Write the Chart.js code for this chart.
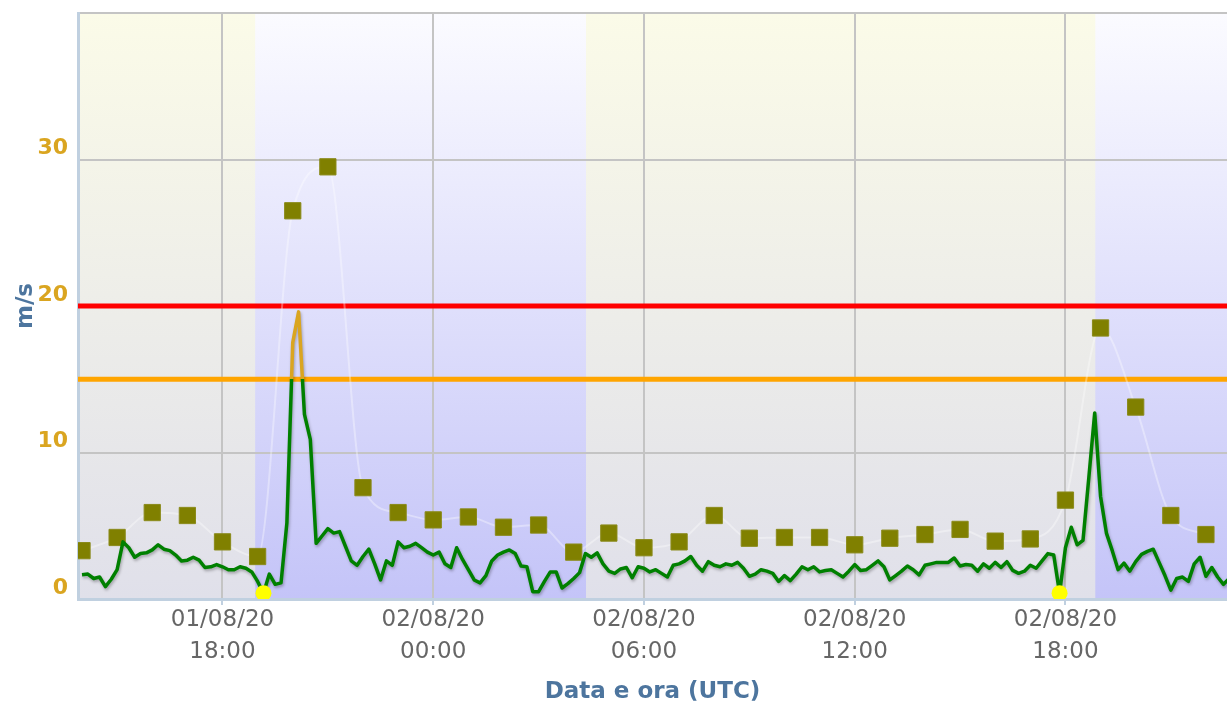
<!DOCTYPE html>
<html>
<head>
<meta charset="utf-8">
<title>Vento</title>
<script src="https://cdn.jsdelivr.net/npm/chart.js@4/dist/chart.umd.min.js"></script>
<style>
  html, body { margin: 0; padding: 0; background: #ffffff; overflow: hidden; }
  #wrap { width: 1227px; height: 706px; }
  canvas { display: block; }
</style>
</head>
<body>
<div id="wrap"><canvas id="myChart" width="1227" height="706"></canvas></div>
<script>
// hours counted from 01/08/20 00:00 UTC
var windStart = 14,
windStep = 1 / 6;

// 10 minute mean wind, m/s
var windAvg = [
  1.65, 1.7, 1.4, 1.5, 0.85, 1.35, 2.0, 3.9, 3.5, 2.85,
  3.1, 3.15, 3.35, 3.7, 3.4, 3.3, 3.0, 2.6, 2.65, 2.85,
  2.65, 2.15, 2.2, 2.35, 2.2, 2.0, 2.0, 2.2, 2.1, 1.85,
  1.2, 0.4, 1.7, 1.0, 1.1, 5.2, 17.5, 19.6, 12.6, 10.9,
  3.8, 4.3, 4.8, 4.5, 4.6, 3.6, 2.6, 2.3, 2.9, 3.4,
  2.4, 1.3, 2.6, 2.3, 3.9, 3.5, 3.6, 3.8, 3.5, 3.2,
  3.0, 3.2, 2.4, 2.15, 3.5, 2.7, 2.0, 1.3, 1.1, 1.6,
  2.6, 3.0, 3.2, 3.35, 3.1, 2.25, 2.2, 0.5, 0.5, 1.2,
  1.85, 1.85, 0.75, 1.05, 1.4, 1.8, 3.1, 2.85, 3.15, 2.4,
  1.9, 1.75, 2.05, 2.15, 1.45, 2.2, 2.1, 1.85, 2.0, 1.75,
  1.5, 2.3, 2.4, 2.6, 2.9, 2.3, 1.9, 2.55, 2.3, 2.2,
  2.4, 2.3, 2.5, 2.1, 1.55, 1.7, 2.0, 1.9, 1.75, 1.2,
  1.6, 1.25, 1.7, 2.2, 2.0, 2.2, 1.85, 1.95, 2.0, 1.75,
  1.5, 1.9, 2.35, 1.95, 2.0, 2.3, 2.6, 2.2, 1.3, 1.6,
  1.9, 2.25, 2.0, 1.65, 2.3, 2.4, 2.5, 2.5, 2.5, 2.8,
  2.25, 2.35, 2.3, 1.9, 2.4, 2.1, 2.5, 2.15, 2.55, 1.95,
  1.75, 1.9, 2.3, 2.1, 2.6, 3.1, 3.0, 0.4, 3.5, 4.9,
  3.7, 4.0, 8.3, 12.7, 7.0, 4.5, 3.3, 2.0, 2.45, 1.9,
  2.55, 3.05, 3.25, 3.4, 2.5, 1.6, 0.6, 1.4, 1.5, 1.2,
  2.4, 2.85, 1.55, 2.15, 1.5, 1.0, 1.4
];

// hourly max gust, m/s
var gustHours = [14, 15, 16, 17, 18, 19, 20, 21, 22, 23, 24, 25, 26, 27, 28, 29, 30,
  31, 32, 33, 34, 35, 36, 37, 38, 39, 40, 41, 42, 43, 44, 45, 46];
var gustMax = [3.3, 4.2, 5.9, 5.7, 3.9, 2.9, 26.5, 29.5, 7.6, 5.9, 5.4, 5.6, 4.9, 5.05, 3.2, 4.5, 3.5,
  3.9, 5.7, 4.15, 4.2, 4.2, 3.7, 4.15, 4.4, 4.75, 3.95, 4.1, 6.75, 18.5, 13.1, 5.7, 4.4];

var warnLevel = 15,
alarmLevel = 20,
calmLimit = 0.45;

// night periods (sunset -> sunrise), hours
var nightBands = [[18.93, 28.35], [42.85, 48]];

var xMin = 13.886,
xMax = 46.6;
var xTickHours = [18, 24, 30, 36, 42];
var xTickLabels = [
  ['01/08/20', '18:00'],
  ['02/08/20', '00:00'],
  ['02/08/20', '06:00'],
  ['02/08/20', '12:00'],
  ['02/08/20', '18:00']
];
var yMin = 0, yMax = 40, yStep = 10;

var windPoints = windAvg.map(function(v, i) {
  return {x: windStart + i * windStep, y: v};
});
var calmPoints = windPoints.filter(function(p) { return p.y <= calmLimit; });
var gustPoints = gustHours.map(function(h, i) {
  return {x: h, y: gustMax[i]};
});

function levelLine(v) {
  return [{x: xMin, y: v}, {x: xMax, y: v}];
}

function windColor(context) {
  var chart = context.chart, area = chart.chartArea;
  if (!area) {
    return '#008000';
  }
  var y = chart.scales.y,
  y0 = y.getPixelForValue(yMin),
  y1 = y.getPixelForValue(yMax),
  g = chart.ctx.createLinearGradient(0, y0, 0, y1),
  w = (warnLevel - yMin) / (yMax - yMin),
  a = (alarmLevel - yMin) / (yMax - yMin);
  g.addColorStop(0, '#008000');
  g.addColorStop(w, '#008000');
  g.addColorStop(w, '#daa520');
  g.addColorStop(a, '#daa520');
  g.addColorStop(a, '#ff0000');
  g.addColorStop(1, '#ff0000');
  return g;
}

// keep the plot area where the axes say, no extra label padding
function noPadding(scale) {
  scale.paddingLeft = 0;
  scale.paddingRight = 0;
  scale.paddingTop = 0;
  scale.paddingBottom = 0;
}

var bandsPlugin = {
  id: 'dayNight',
  beforeDraw: function(chart) {
    var area = chart.chartArea, xs = chart.scales.x, ctx = chart.ctx;
    if (!area) return;
    ctx.save();
    var day = ctx.createLinearGradient(0, area.top, 0, area.bottom);
    day.addColorStop(0, 'rgb(251,251,232)');
    day.addColorStop(1, 'rgb(224,224,234)');
    ctx.fillStyle = day;
    ctx.fillRect(area.left, area.top, area.right - area.left, area.bottom - area.top);
    var night = ctx.createLinearGradient(0, area.top, 0, area.bottom);
    night.addColorStop(0, 'rgb(251,251,255)');
    night.addColorStop(1, 'rgb(196,196,248)');
    ctx.fillStyle = night;
    nightBands.forEach(function(b) {
      var x0 = Math.max(xs.getPixelForValue(b[0]), area.left),
      x1 = Math.min(xs.getPixelForValue(b[1]), area.right);
      if (x1 > x0) {
        ctx.fillRect(x0, area.top, x1 - x0, area.bottom - area.top);
      }
    });
    ctx.restore();
  }
};

var shadowPlugin = {
  id: 'lineShadow',
  beforeDatasetDraw: function(chart, args) {
    if (chart.data.datasets[args.index].shadow) {
      var ctx = chart.ctx;
      ctx.save();
      ctx.shadowColor = 'rgba(0,0,0,0.28)';
      ctx.shadowBlur = 3;
      ctx.shadowOffsetX = 1;
      ctx.shadowOffsetY = 2;
    }
  },
  afterDatasetDraw: function(chart, args) {
    if (chart.data.datasets[args.index].shadow) {
      chart.ctx.restore();
    }
  }
};

var fontFamily = '"DejaVu Sans", Verdana, sans-serif';

var ctx = document.getElementById('myChart').getContext('2d');
var myChart = new Chart(ctx, {
  type: 'line',
  data: {
    datasets: [
      {
        label: 'calma',
        data: calmPoints,
        showLine: false,
        pointRadius: 8,
        pointHoverRadius: 8,
        pointBackgroundColor: '#ffff00',
        pointBorderColor: '#ffff00',
        pointBorderWidth: 0,
        order: 0
      },
      {
        label: 'vento medio',
        data: windPoints,
        borderColor: windColor,
        borderWidth: 3.5,
        borderJoinStyle: 'round',
        pointRadius: 0,
        tension: 0,
        shadow: true,
        order: 1
      },
      {
        label: 'raffica',
        data: gustPoints,
        borderColor: 'rgba(255,255,255,0.35)',
        borderWidth: 2,
        cubicInterpolationMode: 'monotone',
        pointStyle: 'rect',
        pointRadius: 11.5,
        pointHoverRadius: 11.5,
        pointBackgroundColor: '#808000',
        pointBorderColor: '#8a8a1a',
        pointBorderWidth: 1,
        order: 2
      },
      {
        label: 'allarme',
        data: levelLine(alarmLevel),
        borderColor: '#ff0000',
        borderWidth: 5,
        pointRadius: 0,
        order: 3
      },
      {
        label: 'attenzione',
        data: levelLine(warnLevel),
        borderColor: '#ffa500',
        borderWidth: 5,
        pointRadius: 0,
        order: 4
      }
    ]
  },
  options: {
    responsive: false,
    animation: false,
    devicePixelRatio: 1,
    events: [],
    layout: {
      autoPadding: false,
      padding: {top: 13, left: 0, right: 0, bottom: 0}
    },
    plugins: {
      legend: {display: false},
      tooltip: {enabled: false}
    },
    scales: {
      x: {
        type: 'linear',
        min: xMin,
        max: xMax,
        afterFit: function(scale) {
          scale.height = 107;
          noPadding(scale);
        },
        afterBuildTicks: function(scale) {
          scale.ticks = xTickHours.map(function(h) { return {value: h}; });
        },
        grid: {
          color: '#c4c4c4',
          lineWidth: 2,
          tickColor: '#c0d0e0',
          tickLength: 6
        },
        border: {color: '#c0d0e0', width: 3},
        ticks: {
          autoSkip: false,
          maxRotation: 0,
          padding: -1,
          color: '#666666',
          font: {family: fontFamily, size: 23, lineHeight: 1.39},
          callback: function(value) {
            var i = xTickHours.indexOf(value);
            return i >= 0 ? xTickLabels[i] : '';
          }
        },
        title: {
          display: true,
          text: 'Data e ora (UTC)',
          color: '#4d759e',
          font: {family: fontFamily, size: 23, weight: 'bold', lineHeight: 1.2},
          padding: {top: 0, bottom: 0}
        }
      },
      y: {
        min: yMin,
        max: yMax,
        afterFit: function(scale) {
          scale.width = 78;
          noPadding(scale);
        },
        grid: {
          color: '#c4c4c4',
          lineWidth: 2,
          drawTicks: false
        },
        border: {color: '#c0d0e0', width: 3},
        ticks: {
          stepSize: yStep,
          padding: 10,
          labelOffset: -11,
          color: '#daa520',
          font: {family: fontFamily, size: 22, weight: 'bold', lineHeight: 1.15},
          callback: function(value) {
            return value === yMax ? '' : value;
          }
        },
        title: {
          display: true,
          text: 'm/s',
          color: '#4d759e',
          font: {family: fontFamily, size: 23, weight: 'bold', lineHeight: 1.2},
          padding: {top: 12, bottom: 0}
        }
      }
    }
  },
  plugins: [bandsPlugin, shadowPlugin]
});
</script>
</body>
</html>
